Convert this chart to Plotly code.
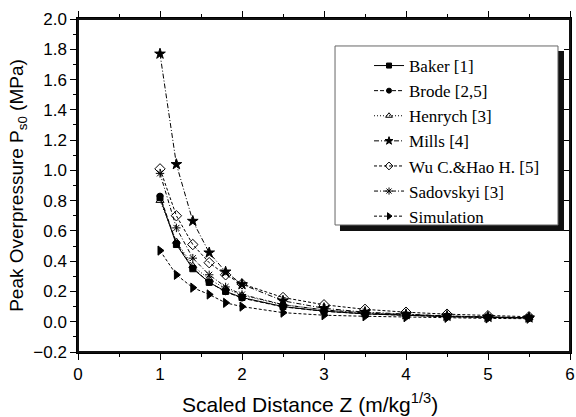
import plotly.graph_objects as go

z = [1, 1.2, 1.4, 1.6, 1.8, 2, 2.5, 3, 3.5, 4, 4.5, 5, 5.5]

baker = [0.82, 0.51, 0.35, 0.26, 0.20, 0.16, 0.10, 0.070, 0.052, 0.042, 0.034, 0.029, 0.025]
brode = [0.83, 0.52, 0.355, 0.26, 0.198, 0.156, 0.098, 0.069, 0.052, 0.041, 0.033, 0.028, 0.024]
henrych = [0.80, 0.53, 0.37, 0.28, 0.22, 0.175, 0.112, 0.079, 0.060, 0.047, 0.038, 0.032, 0.027]
mills = [1.77, 1.04, 0.665, 0.456, 0.33, 0.247, 0.138, 0.089, 0.063, 0.048, 0.038, 0.031, 0.027]
wu_hao = [1.01, 0.70, 0.51, 0.39, 0.31, 0.25, 0.16, 0.112, 0.082, 0.063, 0.050, 0.040, 0.033]
sadovskyi = [0.98, 0.62, 0.42, 0.31, 0.23, 0.18, 0.113, 0.078, 0.058, 0.045, 0.037, 0.031, 0.026]
simulation = [0.47, 0.31, 0.225, 0.18, 0.125, 0.10, 0.06, 0.043, 0.036, 0.030, 0.026, 0.022, 0.020]

names = ["Baker [1]", "Brode [2,5]", "Henrych [3]", "Mills [4]",
         "Wu C.&Hao H. [5]", "Sadovskyi [3]", "Simulation"]
series = [baker, brode, henrych, mills, wu_hao, sadovskyi, simulation]
symbols = ["square", "circle", "triangle-up-open", "star", "diamond-open",
           "asterisk-open", "triangle-right"]
dashes = ["solid", "4px,2px", "1px,2px", "5px,2px,1px,2px", "3px,2px",
          "4px,2px,1px,2px", "3px,2px"]
sizes = [6, 6, 7, 8, 8, 7, 8]
legend_sizes = [5, 5, 6, 6, 6, 6, 6]

fig = go.Figure()
for n, s, sym, d, sz in zip(names, series, symbols, dashes, sizes):
    fig.add_trace(go.Scatter(
        x=z, y=s, name=n, mode="lines+markers", showlegend=False,
        line=dict(color="black", width=1, dash=d),
        marker=dict(symbol=sym, size=sz, color="black",
                    line=dict(color="black", width=1)),
    ))

# legend entries (no data drawn; they only style the legend samples)
for n, sym, d, sz in zip(names, symbols, dashes, legend_sizes):
    fig.add_trace(go.Scatter(
        x=[None], y=[None], name=n, mode="lines+markers",
        line=dict(color="black", width=1, dash=d),
        marker=dict(symbol=sym, size=sz, color="black",
                    line=dict(color="black", width=1)),
    ))

# invisible trace to carry the right-side tick axis
fig.add_trace(go.Scatter(x=[0], y=[0], yaxis="y2", mode="markers",
                         marker=dict(opacity=0), showlegend=False,
                         hoverinfo="skip"))

axis_font = dict(family="Liberation Sans, Arial", size=17, color="black")
xtitle_font = dict(family="Liberation Sans, Arial", size=21, color="black")
ytitle_font = dict(family="Liberation Sans, Arial", size=19, color="black")

fig.update_layout(
    width=576, height=417,
    margin=dict(l=78, r=6, t=19, b=65, autoexpand=False),
    paper_bgcolor="white", plot_bgcolor="white",
    font=axis_font,
    xaxis=dict(
        range=[0, 6], dtick=1, tick0=0, automargin=False,
        showgrid=False, zeroline=False,
        showline=True, linecolor="black", linewidth=1.5,
        ticks="outside", ticklen=6, tickwidth=1, tickcolor="black",
        mirror="ticks",
        minor=dict(dtick=0.5, ticks="outside", ticklen=3, tickcolor="black"),
        tickfont=axis_font,
    ),
    yaxis=dict(
        range=[-0.2, 2.0], dtick=0.2, tick0=0, tickformat=".1f",
        automargin=False,
        showgrid=False, zeroline=False,
        showline=True, linecolor="black", linewidth=1.5,
        ticks="outside", ticklen=6, tickwidth=1, tickcolor="black",
        minor=dict(dtick=0.1, ticks="outside", ticklen=3, tickcolor="black"),
        title=dict(text="Peak Overpressure P<sub>s0</sub> (MPa)",
                   font=ytitle_font, standoff=5),
        tickfont=axis_font,
    ),
    yaxis2=dict(
        range=[-0.2, 2.0], dtick=0.2, tick0=0, overlaying="y", side="right",
        automargin=False,
        showgrid=False, zeroline=False, showticklabels=False,
        showline=True, linecolor="black", linewidth=1.5,
        ticks="inside", ticklen=6, tickwidth=1, tickcolor="black",
    ),
    annotations=[dict(
        text="Scaled Distance Z (m/kg<sup>1/3</sup>)",
        xref="paper", yref="paper", x=0.4715, y=-0.108,
        xanchor="center", yanchor="top", showarrow=False,
        font=xtitle_font,
    )],
    legend=dict(
        x=0.5224, y=0.9129, xanchor="left", yanchor="top",
        bgcolor="rgba(0,0,0,0)", borderwidth=0,
        font=dict(family="Liberation Serif, Times New Roman", size=17,
                  color="black"),
        itemwidth=30, tracegroupgap=0, indentation=34,
    ),
    shapes=[
        # plot frame
        dict(type="rect", xref="paper", yref="paper",
             x0=0, x1=1, y0=0, y1=1,
             line=dict(color="#111111", width=2), layer="above"),
        # legend drop shadow
        dict(type="rect", xref="paper", yref="paper",
             x0=0.5325, x1=0.9878, y0=0.3634, y1=0.904,
             fillcolor="#111111", line=dict(width=0), layer="above"),
        # legend box
        dict(type="rect", xref="paper", yref="paper",
             x0=0.5224, x1=0.9756, y0=0.3814, y1=0.919,
             fillcolor="white", line=dict(color="#666666", width=1),
             layer="above"),
    ],
    showlegend=True,
)

fig.write_html("out.html", config={"displayModeBar": False},
               post_script="document.body.style.margin='0px';")
